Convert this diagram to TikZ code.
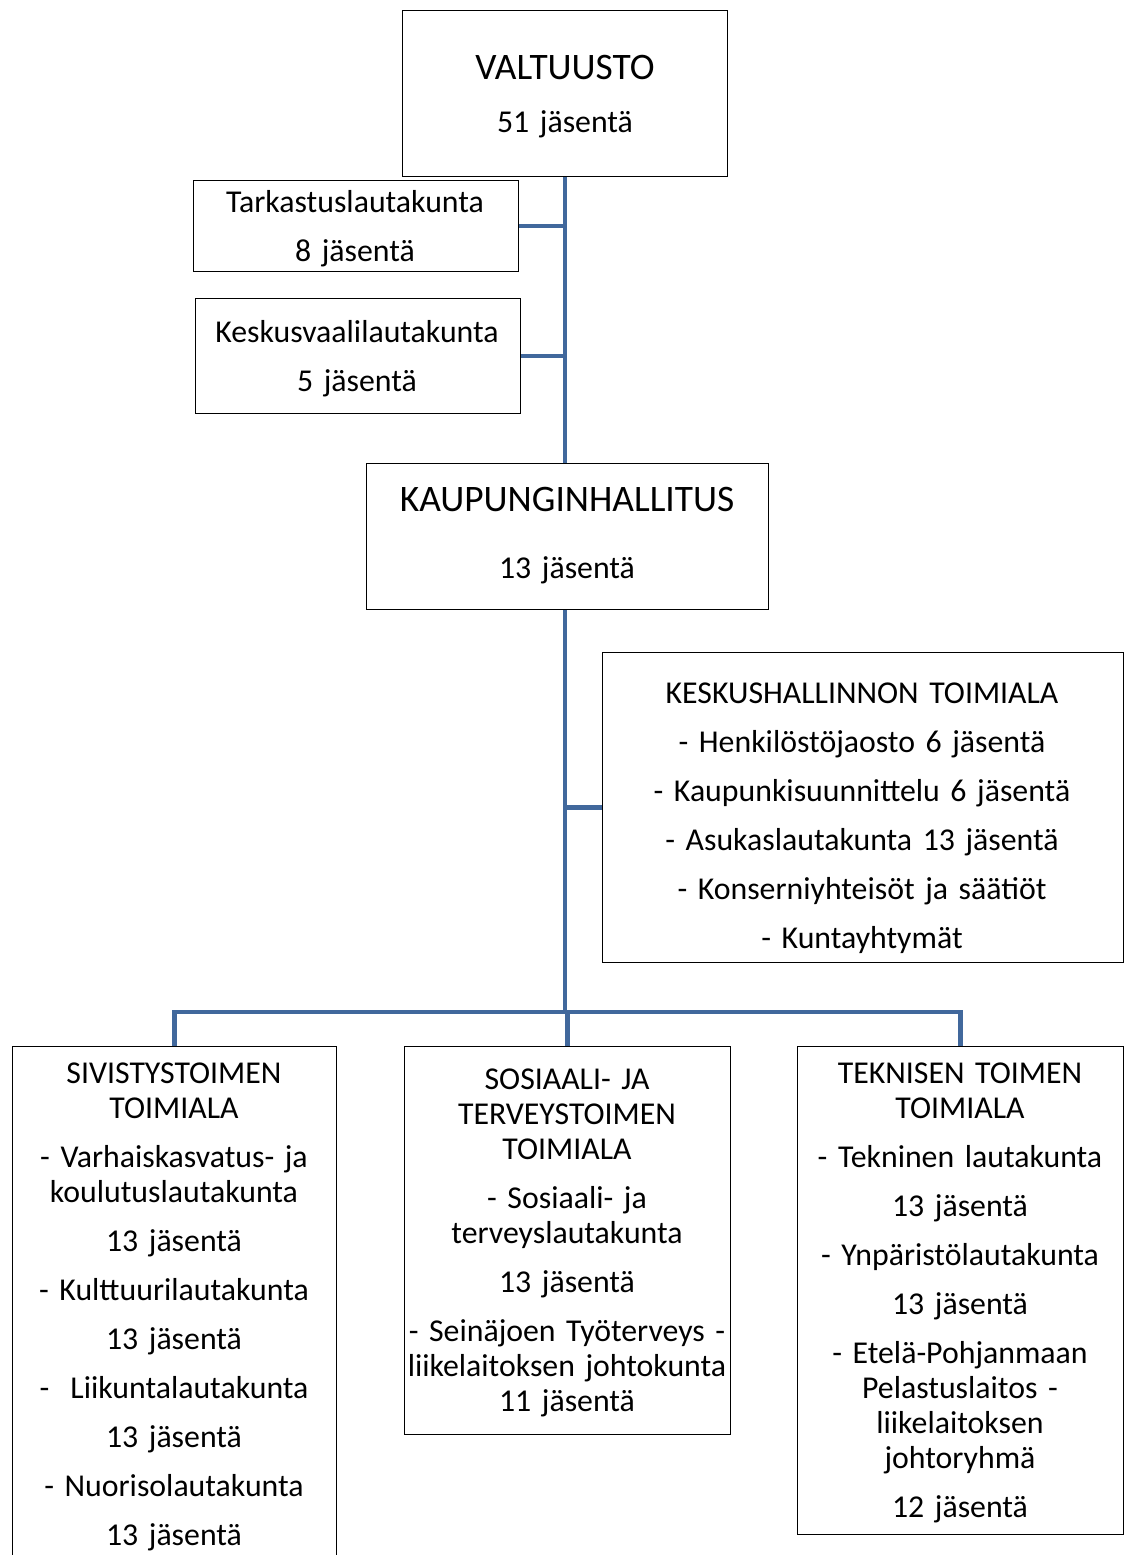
\documentclass[tikz,border=0pt]{standalone}
\usepackage{fontspec}
\setmainfont{Carlito}
\usetikzlibrary{positioning}
\definecolor{linkblue}{HTML}{41689C}

\begin{document}
\begin{tikzpicture}[x=1pt, y=-1pt,
    box/.style  = {rectangle, draw=black, line width=1.1pt, fill=white,
                   anchor=north west, inner sep=0pt},
    txt/.style  = {align=center, anchor=base, inner sep=0pt, text width=440pt,
                   font=\fontsize{31.8}{35}\selectfont},
    big/.style  = {font=\fontsize{37.4}{40}\selectfont},
    link/.style = {draw=linkblue, line width=4.5pt}
  ]
  \useasboundingbox (0,0) rectangle (1125,1555);

  % -- top level -------------------------------------------------------------
  \node[box, minimum width=325, minimum height=166] (valtuusto) at (402,10) {};
  \node[txt, big] (valtuustoT) at (565,79) {VALTUUSTO};
  \node[txt] (valtuustoN) at (565,132) {51 jäsentä};

  \node[box, minimum width=325, minimum height=91] (tarkastus) at (193,180) {};
  \node[txt] (tarkastusT) at (355,212) {Tarkastuslautakunta\\[14pt]8 jäsentä};

  \node[box, minimum width=325, minimum height=115] (vaali) at (195,298) {};
  \node[txt] (vaaliT) at (357,342) {Keskusvaalilautakunta\\[14pt]5 jäsentä};

  \node[box, minimum width=402, minimum height=146] (hallitus) at (366,463) {};
  \node[txt, big] (hallitusT) at (567,511) {KAUPUNGINHALLITUS};
  \node[txt] (hallitusN) at (567,578) {13 jäsentä};

  % -- keskushallinto --------------------------------------------------------
  \node[box, minimum width=521, minimum height=310] (keskus) at (602,652) {};
  \node[txt] (keskusT) at (862,703) {KESKUSHALLINNON TOIMIALA\\[14pt]
    - Henkilöstöjaosto 6 jäsentä\\[14pt]
    - Kaupunkisuunnittelu 6 jäsentä\\[14pt]
    - Asukaslautakunta 13 jäsentä\\[14pt]
    - Konserniyhteisöt ja säätiöt\\[14pt]
    - Kuntayhtymät};

  % -- toimialat -------------------------------------------------------------
  \node[box, minimum width=324, minimum height=560] (sivistys) at (12,1046) {};
  \node[txt] (sivistysT) at (174,1083) {SIVISTYSTOIMEN\\TOIMIALA\\[14pt]
    - Varhaiskasvatus- ja\\koulutuslautakunta\\[14pt]
    13 jäsentä\\[14pt]
    - Kulttuurilautakunta\\[14pt]
    13 jäsentä\\[14pt]
    -\ \ Liikuntalautakunta\\[14pt]
    13 jäsentä\\[14pt]
    - Nuorisolautakunta\\[14pt]
    13 jäsentä};

  \node[box, minimum width=326, minimum height=388] (sosiaali) at (404,1046) {};
  \node[txt] (sosiaaliT) at (567,1089) {SOSIAALI- JA\\TERVEYSTOIMEN\\TOIMIALA\\[14pt]
    - Sosiaali- ja\\terveyslautakunta\\[14pt]
    13 jäsentä\\[14pt]
    - Seinäjoen Työterveys -\\liikelaitoksen johtokunta\\11 jäsentä};

  \node[box, minimum width=326, minimum height=488] (tekninen) at (797,1046) {};
  \node[txt] (tekninenT) at (960,1083) {TEKNISEN TOIMEN\\TOIMIALA\\[14pt]
    - Tekninen lautakunta\\[14pt]
    13 jäsentä\\[14pt]
    - Ynpäristölautakunta\\[14pt]
    13 jäsentä\\[14pt]
    - Etelä-Pohjanmaan\\Pelastuslaitos -\\liikelaitoksen\\johtoryhmä\\[14pt]
    12 jäsentä};

  % -- connectors ------------------------------------------------------------
  \coordinate (split) at (valtuusto.south |- 0,1012);
  \draw[link] (valtuusto.south) -- (valtuusto.south |- hallitus.north);
  \draw[link] (tarkastus.east) -- (tarkastus.east -| valtuusto.south);
  \draw[link] (vaali.east) -- (vaali.east -| valtuusto.south);
  \draw[link] (valtuusto.south |- hallitus.south) -- (split);
  \draw[link] (keskus.west) -- (keskus.west -| split);
  \draw[link] (sivistys.north) -- ++(0,-34) -| (tekninen.north);
  \draw[link] (split -| sosiaali.north) -- (sosiaali.north);

\end{tikzpicture}
\end{document}
